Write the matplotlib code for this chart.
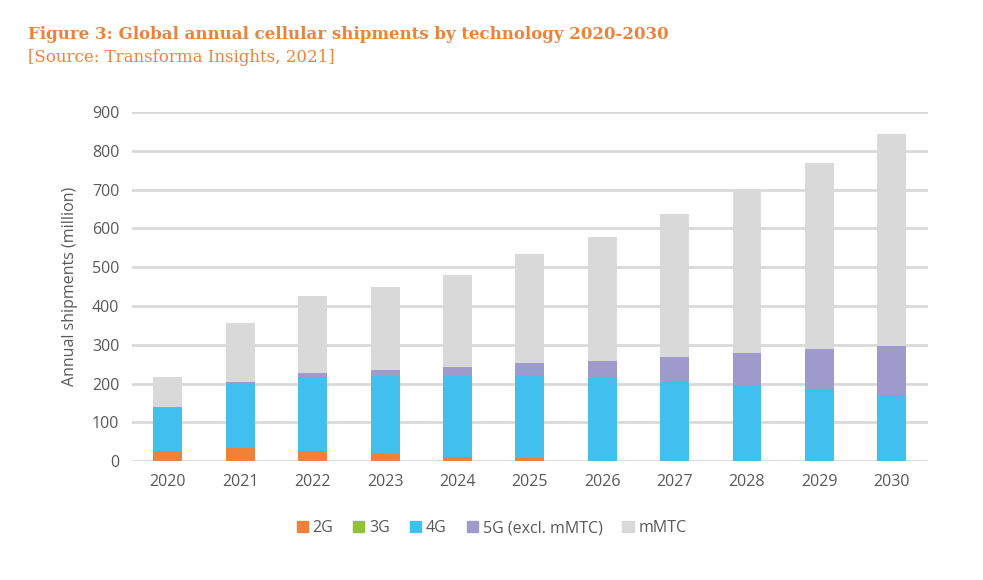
import numpy as np
import matplotlib.pyplot as plt
from matplotlib.patches import Patch

years = ['2020', '2021', '2022', '2023', '2024', '2025', '2026', '2027', '2028', '2029', '2030']
g2 = [26, 35, 26, 18, 10, 8, 0, 0, 0, 0, 0]
g3 = [0, 0, 0, 0, 0, 0, 0, 0, 0, 0, 0]
g4 = [111, 165, 190, 202, 210, 214, 215, 204, 196, 183, 170]
g5 = [3, 4, 11, 15, 22, 30, 43, 64, 82, 106, 126]
mmtc = [78, 152, 198, 213, 237, 281, 319, 369, 422, 479, 547]

series = [('2G', g2, '#F08139'), ('3G', g3, '#92C13E'), ('4G', g4, '#41BFEF'),
          ('5G (excl. mMTC)', g5, '#9E9ACC'), ('mMTC', mmtc, '#D9D9D9')]

fig = plt.figure(figsize=(9.83, 5.8), dpi=100)
ax = fig.add_axes([0.134, 0.205, 0.81, 0.602])

x = np.arange(len(years))
bottom = np.zeros(len(years))
for name, vals, col in series:
    ax.bar(x, vals, 0.4, bottom=bottom, color=col, zorder=3, label=name)
    bottom += np.array(vals)

ax.set_xlim(-0.5, len(years) - 0.5)
ax.set_ylim(0, 900)
ax.set_yticks(range(0, 901, 100))
ax.set_xticks(x)
ax.set_xticklabels(years)
ax.grid(axis='y', color='#D9D9D9', linewidth=2, zorder=0)
for s in ax.spines.values():
    s.set_visible(False)
ax.tick_params(length=0, labelsize=11.5, labelcolor='#595959', pad=9)
for lab in ax.get_xticklabels() + ax.get_yticklabels():
    lab.set_fontfamily('Open Sans')
ax.set_ylabel('Annual shipments (million)', fontsize=11.5, color='#595959',
              family='Open Sans', labelpad=10)

handles = [Patch(color=c) for _, _, c in series]
fig.legend(handles, [n for n, _, _ in series], loc='center', bbox_to_anchor=(0.5, 0.089),
           ncol=5, frameon=False, handlelength=0.7, handleheight=0.7, handletextpad=0.3,
           columnspacing=1.25, prop={'family': 'Open Sans', 'size': 11.5}, labelcolor='#595959')

fig.text(0.028, 0.94, 'Figure 3: Global annual cellular shipments by technology 2020-2030',
         fontsize=12, fontweight='bold', family='DejaVu Serif', color='#F08139', va='center')
fig.text(0.028, 0.9, '[Source: Transforma Insights, 2021]',
         fontsize=12, family='DejaVu Serif', color='#F08139', va='center')

fig.savefig('out.png', dpi=100)
